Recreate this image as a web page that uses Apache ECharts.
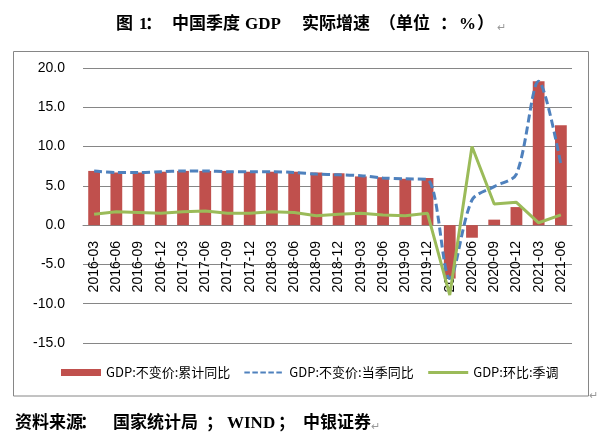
<!DOCTYPE html>
<html>
<head>
<meta charset="utf-8">
<script src="https://cdn.jsdelivr.net/npm/echarts@6/dist/echarts.min.js"></script>
<style>
html,body{margin:0;padding:0;background:#fff;}
#chart{width:608px;height:446px;}
</style>
</head>
<body>
<div id="chart"></div>
<script>
// ---- data ----
var categories = ['2016-03','2016-06','2016-09','2016-12','2017-03','2017-06','2017-09','2017-12',
  '2018-03','2018-06','2018-09','2018-12','2019-03','2019-06','2019-09','2019-12',
  '2020-03','2020-06','2020-09','2020-12','2021-03','2021-06'];
var cumulativeYoY = [6.9,6.7,6.7,6.8,6.9,6.9,6.9,6.8,6.8,6.8,6.7,6.6,6.2,6.1,5.9,6.0,-6.8,-1.6,0.7,2.3,18.3,12.7];
var quarterlyYoY  = [6.9,6.7,6.7,6.8,6.9,6.9,6.8,6.8,6.8,6.7,6.5,6.4,6.3,6.0,5.9,5.8,-6.8,3.2,4.9,6.5,18.3,7.7];
var qoqSA         = [1.4,1.7,1.6,1.5,1.7,1.8,1.5,1.5,1.7,1.6,1.2,1.4,1.5,1.3,1.2,1.5,-8.9,10.0,2.7,2.9,0.3,1.3];
var seriesNames = ['GDP:不变价:累计同比','GDP:不变价:当季同比','GDP:环比:季调'];
var yTicks = [-15,-10,-5,0,5,10,15,20];
var titleParts = ['图','1','：','中国季度','GDP','实际增速','（单位','：','%','）'];
var sourceParts = ['资料来源','：','国家统计局','；','WIND','；','中银证券'];

var chart = echarts.init(document.getElementById('chart'), null, {renderer:'canvas'});
var serifBold = 'bold 17px "Liberation Serif", "Noto Sans CJK SC", serif';
var titleX = [116,139,145,172,245,302,379,440,459,477];
var srcX = [15,80,113,206,227,278,303];
var graphics = [];
graphics.push({type:'rect', shape:{x:13.5,y:51.5,width:575,height:344.5}, style:{fill:'none',stroke:'#868686',lineWidth:1}, z:-1});
titleParts.forEach(function(t,i){
  graphics.push({type:'text', x:titleX[i], y:25, style:{text:t, font:serifBold, fill:'#000', verticalAlign:'middle', align:'left'}});
});
graphics.push({type:'text', x:497, y:27, style:{text:'↵', font:'11px "Noto Sans CJK SC"', fill:'#999', verticalAlign:'middle'}});
sourceParts.forEach(function(t,i){
  graphics.push({type:'text', x:srcX[i], y:424, style:{text:t, font:serifBold, fill:'#000', verticalAlign:'middle', align:'left'}});
});
graphics.push({type:'text', x:371, y:426, style:{text:'↵', font:'11px "Noto Sans CJK SC"', fill:'#999', verticalAlign:'middle'}});
graphics.push({type:'text', x:589, y:395, style:{text:'↵', font:'11px "Noto Sans CJK SC"', fill:'#999', verticalAlign:'middle'}});

var option = {
  animation:false,
  backgroundColor:'#fff',
  grid:{left:83, right:36, top:68, bottom:103, containLabel:false},
  legend:{
    left:61, top:366, padding:0, itemGap:13, itemWidth:40, itemHeight:7,
    textStyle:{fontSize:13, color:'#000', fontFamily:'"Noto Sans CJK SC", sans-serif'},
    data:[
      {name:seriesNames[0], icon:'rect'},
      {name:seriesNames[1], lineStyle:{width:2, type:[5.5,2.5]}, itemStyle:{opacity:0, borderWidth:0}},
      {name:seriesNames[2], lineStyle:{width:3}, itemStyle:{opacity:0, borderWidth:0}}
    ]
  },
  xAxis:{
    type:'category', data:categories,
    offset:-118,
    axisLine:{show:true, onZero:false, lineStyle:{color:'#868686', width:1}},
    axisTick:{show:false},
    axisLabel:{rotate:90, margin:16, fontSize:14, color:'#000', fontFamily:'"Liberation Sans", Arial, sans-serif', interval:0}
  },
  yAxis:{
    type:'value', min:-15, max:20, interval:5,
    axisLine:{show:false}, axisTick:{show:false},
    axisLabel:{margin:18, fontSize:14, color:'#000', fontFamily:'"Liberation Sans", Arial, sans-serif',
      formatter:function(v){return v.toFixed(1);}},
    splitLine:{lineStyle:{color:'#868686', width:1}}
  },
  series:[
    {name:seriesNames[0], type:'bar', data:cumulativeYoY, barWidth:'53%', itemStyle:{color:'#C0504D'}, z:2},
    {name:seriesNames[1], type:'line', data:quarterlyYoY, symbol:'none', smooth:0.3,
      lineStyle:{color:'#4F81BD', width:3, type:[8,4]}, itemStyle:{color:'#4F81BD'}, z:3},
    {name:seriesNames[2], type:'line', data:qoqSA, symbol:'none',
      lineStyle:{color:'#9BBB59', width:3}, itemStyle:{color:'#9BBB59'}, z:4}
  ],
  graphic:graphics
};
chart.setOption(option);
</script>
</body>
</html>
